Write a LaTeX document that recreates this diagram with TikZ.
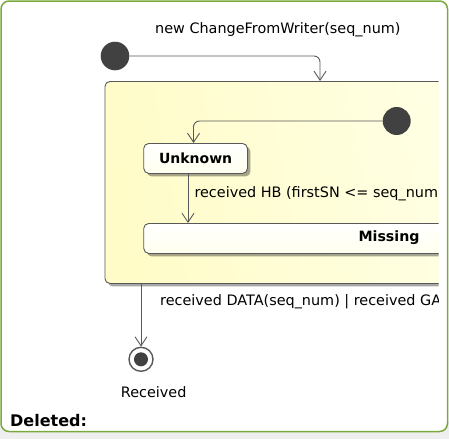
\documentclass[tikz,border=0pt]{standalone}
\usepackage{fontspec}
\setmainfont{DejaVu Sans}
\usetikzlibrary{arrows.meta,shadows,calc}
\definecolor{frameg}{HTML}{7AAA3E}
\definecolor{lineg}{HTML}{595959}
\definecolor{dotc}{HTML}{414141}
\definecolor{yelA}{HTML}{FFFCC8}
\definecolor{yelB}{HTML}{FFFFE4}
\definecolor{bgg}{HTML}{EFEFEF}
\tikzset{
  lbl/.style={inner sep=0pt, font=\fontsize{14.4}{16}\selectfont, text=black},
  blbl/.style={lbl, font=\fontsize{14.2}{16}\selectfont\bfseries},
  initdot/.style={circle, fill=dotc, draw=none, minimum size=28.6pt, inner sep=0pt},
  compbox/.style={rectangle, rounded corners=5pt, draw=lineg, line width=0.9pt,
    left color=yelA, right color=yelB, shading angle=100,
    drop shadow={shadow xshift=3pt, shadow yshift=-3pt, opacity=0.35, fill=black}},
  substate/.style={rectangle, rounded corners=5pt, draw=lineg, line width=0.9pt,
    top color=white, bottom color=yelB!60!white, inner sep=0pt,
    drop shadow={shadow xshift=3pt, shadow yshift=-3pt, opacity=0.35, fill=black}},
  trans/.style={draw=lineg, line width=0.9pt, rounded corners=6pt,
    -{Straight Barb[length=9pt, width=12pt, line width=0.9pt]}},
}
\begin{document}
\begin{tikzpicture}[x=1pt, y=-1pt]
\useasboundingbox (0,0) rectangle (449,439);
\fill[white] (0,0) rectangle (449,439);
\fill[bgg] (0,422) rectangle (449,439);
\draw[frameg, line width=1.5pt, fill=white, rounded corners=8pt] (1,1) rectangle (447.5,431.5);

% top trigger label
\node[lbl, anchor=base west] (toplbl) at (155,33.7) {new ChangeFromWriter(seq\_num)};

% initial pseudo-state
\node[initdot] (init) at (115,56) {};

\begin{scope}
\clip (0,0) rectangle (438.5,439);
% composite state
\node[compbox, minimum width=360pt, minimum height=202pt, anchor=north west] (comp) at (104.5,81) {};
% inner initial
\node[initdot, minimum size=28pt] (init2) at (396.7,121) {};
% Unknown
\node[substate, minimum width=103.7pt, minimum height=30pt, anchor=north west,
      font=\fontsize{14}{16}\selectfont\bfseries] (unk) at (143.3,143) {Unknown};
% Missing
\node[substate, minimum width=340pt, minimum height=30pt, anchor=north west] (miss) at (143.3,223) {};
\node[blbl, anchor=base west] (misslbl) at (358.3,241.7) {Missing};
% labels
\node[lbl, anchor=base west] (hblbl) at (194.3,197.7) {received HB (firstSN <= seq\_num)};
\node[lbl, anchor=base west] (datalbl) at (160,305.7) {received DATA(seq\_num) | received GAP};
\end{scope}

% final state
\node[circle, draw=lineg, line width=1.4pt, fill=white, minimum size=24pt, inner sep=0pt] (fin) at (141,359.3) {};
\fill[dotc] (fin.center) circle (7pt);
\node[lbl, anchor=base west] (finlbl) at (120.7,397.7) {Received};

% Deleted label
\node[lbl, font=\fontsize{16}{18}\selectfont\bfseries, anchor=base west] (del) at (10,426) {Deleted:};

% transitions
\coordinate (c1) at (320,81);
\draw[trans] (init.east) -| (c1);
\coordinate (c2) at (193.5,143);
\draw[trans] (init2.west) -| (c2);
\draw[trans, rounded corners=0pt] (unk.south -| 188,0) -- (miss.north -| 188,0);
\draw[trans, rounded corners=0pt] (comp.south -| fin.north) -- (fin.north);
\end{tikzpicture}
\end{document}
